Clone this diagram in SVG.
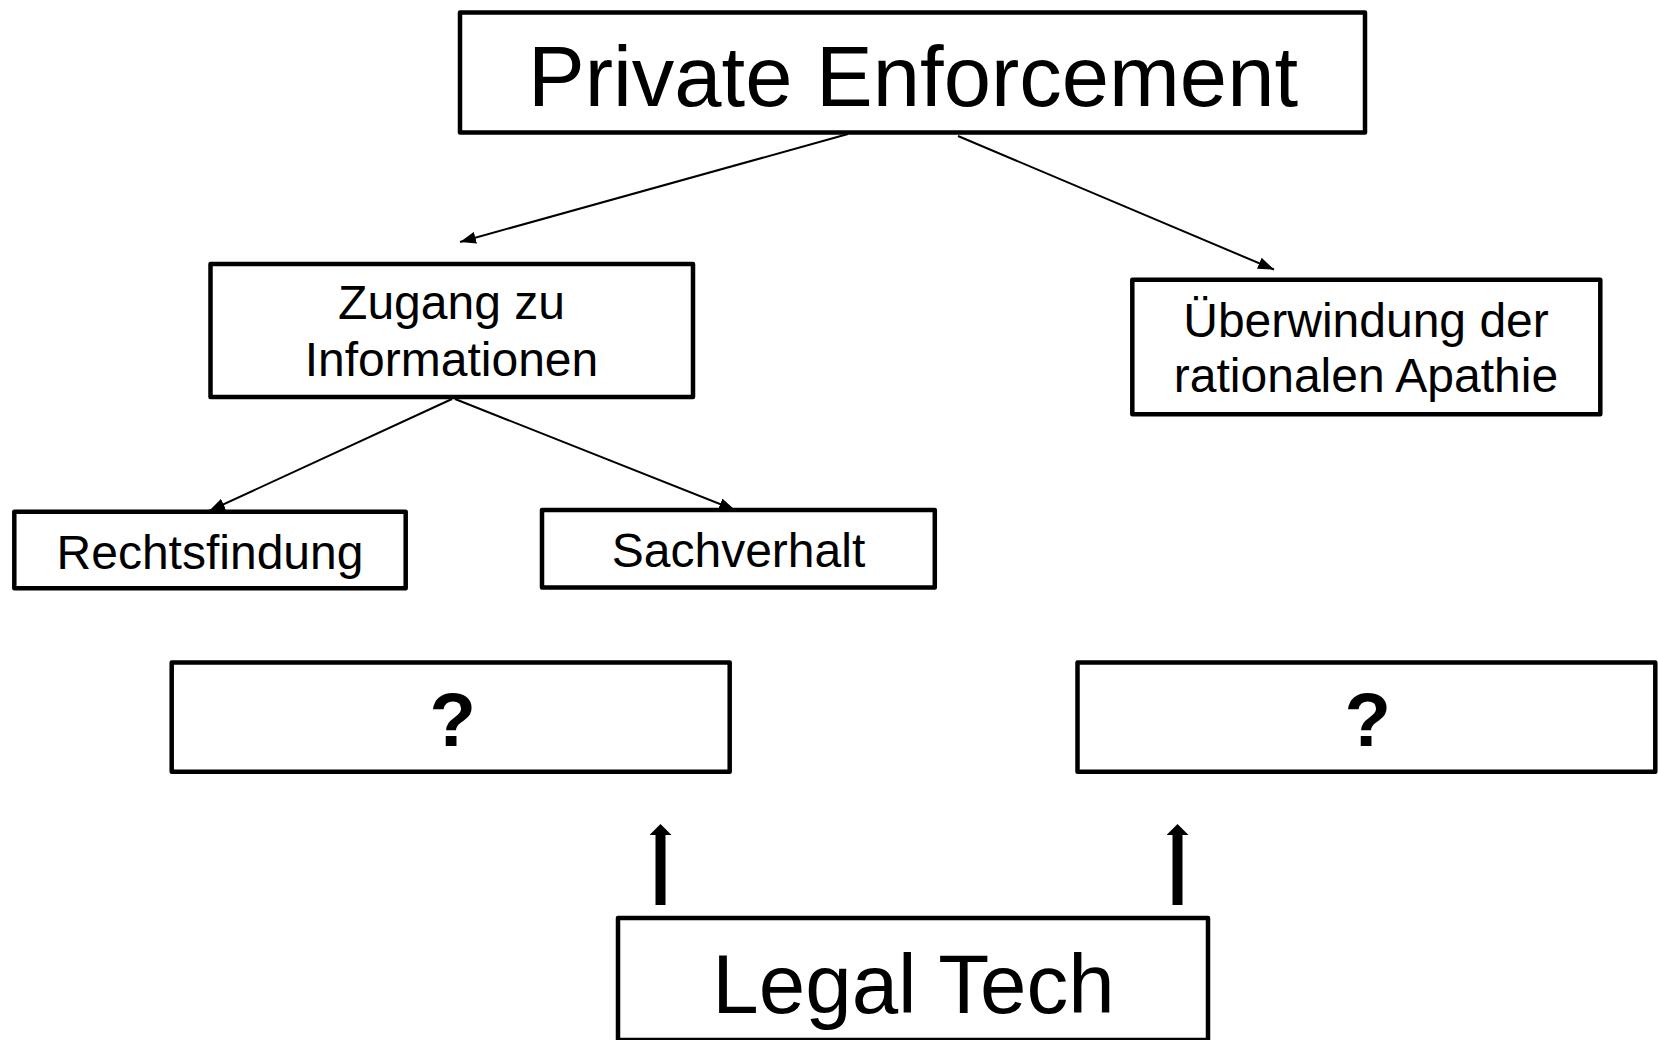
<svg xmlns="http://www.w3.org/2000/svg" width="1658" height="1040" viewBox="0 0 1658 1040">
<style>
.box{fill:#fff;stroke:#000;stroke-width:4.5;stroke-linejoin:round}
.t{font-family:"Liberation Sans",Arial,sans-serif;fill:#000;text-anchor:middle}
.m{font-size:48px}
.q{font-size:76px;font-weight:bold}
.big{font-size:85px}
.lt{font-size:83.5px}
.thin{stroke:#000;stroke-width:2;fill:none}
.thick{stroke:#000;stroke-width:10;fill:none}
</style>
<defs>
<marker id="ah" markerUnits="userSpaceOnUse" markerWidth="16" markerHeight="12" refX="16" refY="6" orient="auto">
<path d="M0,0 L16,6 L0,12 z" fill="#000"/>
</marker>
<marker id="bh" markerUnits="userSpaceOnUse" markerWidth="12" markerHeight="22" refX="0" refY="11" orient="auto">
<path d="M0,0 L11,11 L0,22 z" fill="#000"/>
</marker>
</defs>
<rect width="1658" height="1040" fill="#fff"/>
<g id="connectors">
<line class="thin" x1="848" y1="134" x2="460" y2="242" marker-end="url(#ah)"/>
<line class="thin" x1="958" y1="136" x2="1274" y2="269.5" marker-end="url(#ah)"/>
<line class="thin" x1="452" y1="399" x2="209" y2="511" marker-end="url(#ah)"/>
<line class="thin" x1="455" y1="399" x2="735" y2="510" marker-end="url(#ah)"/>
<line class="thick" x1="660.5" y1="905" x2="660.5" y2="835" marker-end="url(#bh)"/>
<line class="thick" x1="1177.5" y1="905" x2="1177.5" y2="835" marker-end="url(#bh)"/>
</g>
<g id="private-enforcement">
<rect class="box" x="460" y="12.5" width="905" height="120"/>
<text class="t big" x="913" y="105.5">Private Enforcement</text>
</g>
<g id="zugang">
<rect class="box" x="210.5" y="264" width="482.5" height="133"/>
<text class="t m" x="451.5" y="319">Zugang zu</text>
<text class="t m" x="451.5" y="376">Informationen</text>
</g>
<g id="ueberwindung">
<rect class="box" x="1132.3" y="279.7" width="468" height="134.5"/>
<text class="t m" x="1366" y="337">Überwindung der</text>
<text class="t m" x="1366" y="392">rationalen Apathie</text>
</g>
<g id="rechtsfindung">
<rect class="box" x="14.3" y="511.7" width="391.4" height="76.6"/>
<text class="t m" x="210" y="569">Rechtsfindung</text>
</g>
<g id="sachverhalt">
<rect class="box" x="542" y="510" width="392.8" height="77.5"/>
<text class="t m" x="738.5" y="567">Sachverhalt</text>
</g>
<g id="question-left">
<rect class="box" x="171.7" y="662.5" width="558" height="109.2"/>
<text class="t q" x="452.7" y="746">?</text>
</g>
<g id="question-right">
<rect class="box" x="1077.5" y="662.5" width="577.8" height="109.2"/>
<text class="t q" x="1367.8" y="746">?</text>
</g>
<g id="legal-tech">
<rect class="box" x="618" y="918" width="590" height="122"/>
<text class="t lt" x="913.5" y="1013">Legal Tech</text>
</g>
</svg>
